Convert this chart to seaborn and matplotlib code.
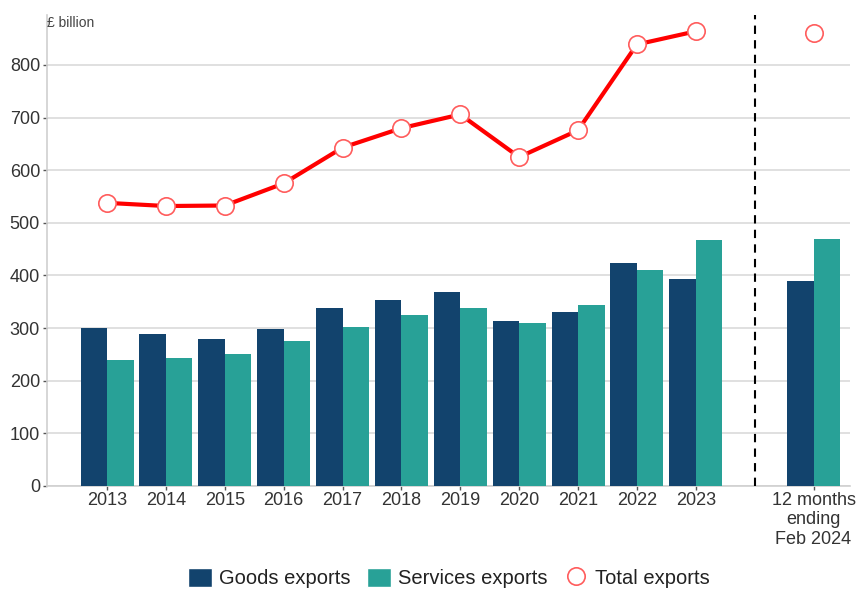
import matplotlib
matplotlib.use("Agg")
import matplotlib.pyplot as plt
from matplotlib.lines import Line2D
import seaborn as sns
import pandas as pd

# ---- data ----
years = ["2013", "2014", "2015", "2016", "2017", "2018", "2019", "2020", "2021", "2022", "2023"]
goods = [300, 288, 280, 299, 339, 353, 368, 313, 330, 424, 393]
services = [239, 243, 251, 275, 302, 324, 338, 309, 343, 411, 468]
total = [538, 532, 533, 575, 643, 680, 706, 625, 676, 839, 864]

latest_label = "12 months\nending\nFeb 2024"
latest_goods = 390
latest_services = 470
latest_total = 861

series_names = ["Goods exports", "Services exports"]
total_name = "Total exports"
colors = ["#12436D", "#28A197"]
line_color = "#FF0000"

# ---- frames ----
gap = " "
order = years + [gap, latest_label]
periods = years + [latest_label]
goods_all = goods + [latest_goods]
services_all = services + [latest_services]
n = len(periods)
bars = pd.DataFrame({
    "period": periods * 2,
    "series": [series_names[0]] * n + [series_names[1]] * n,
    "value": goods_all + services_all,
})
line_df = pd.DataFrame({"period": years, "value": total})
latest_df = pd.DataFrame({"period": [latest_label], "value": [latest_total]})

# ---- figure ----
sns.set_style("white")
plt.rcParams["font.family"] = ["Liberation Sans", "DejaVu Sans"]
fig = plt.figure(figsize=(8.58, 5.90), dpi=100)
ax = fig.add_axes([47 / 858, 1 - 486 / 590, (850 - 47) / 858, (486 - 15) / 590])

sns.barplot(data=bars, x="period", y="value", hue="series", order=order,
            hue_order=series_names, palette=colors, saturation=1, width=0.9,
            linewidth=0, legend=False, ax=ax, zorder=3)

marker_kws = dict(markersize=12.5, markerfacecolor="white",
                  markeredgecolor="#FF5C5C", markeredgewidth=1.2)
sns.pointplot(data=line_df, x="period", y="value", order=order, color=line_color,
              markers="o", linestyles="-", linewidth=3, errorbar=None, ax=ax,
              zorder=5, **marker_kws)
sns.pointplot(data=latest_df, x="period", y="value", order=order, color=line_color,
              markers="o", linestyles="none", errorbar=None, ax=ax,
              zorder=5, **marker_kws)

gap_pos = order.index(gap)
ax.axvline(gap_pos, color="black", linestyle=(0, (4, 3)), linewidth=1.5, zorder=4)

# axes styling
ax.set_xlim(-1.02, 12.62)
ax.set_ylim(0, 895)
ax.set_yticks(range(0, 801, 100))
ax.grid(axis="y", color="#DDDDDD", linewidth=1.3, zorder=0)
ax.set_axisbelow(True)
tick_pos = [i for i, c in enumerate(order) if c.strip()]
ax.set_xticks(tick_pos)
ax.set_xticklabels([order[i] for i in tick_pos], multialignment="center")
ax.tick_params(axis="both", labelsize=13, labelcolor="#333333", color="#555555",
               length=3, width=1, direction="out", left=True, bottom=True, pad=2)
ax.tick_params(axis="x", pad=1)
ax.set_xlabel("")
ax.set_ylabel("")
for side in ["top", "right"]:
    ax.spines[side].set_visible(False)
for side in ["left", "bottom"]:
    ax.spines[side].set_color("#D0D0D0")
    ax.spines[side].set_linewidth(1.2)

fig.text(47 / 858, 1 - 23 / 590, "£ billion", fontsize=10, color="#444444",
         ha="left", va="center")

# legend
handles = [
    plt.Rectangle((0, 0), 1, 1, facecolor=colors[0]),
    plt.Rectangle((0, 0), 1, 1, facecolor=colors[1]),
    Line2D([], [], linestyle="none", marker="o", markersize=12.5,
           markerfacecolor="white", markeredgecolor="#FF5C5C", markeredgewidth=1.2),
]
fig.legend(handles, series_names + [total_name], loc="center",
           bbox_to_anchor=(0.523, 0.02), ncol=3, frameon=False, fontsize=14.5,
           handlelength=1.2, handleheight=1.1, handletextpad=0.35,
           columnspacing=0.8, labelcolor="#222222", borderpad=0.1)

fig.savefig("out.png", dpi=100)
